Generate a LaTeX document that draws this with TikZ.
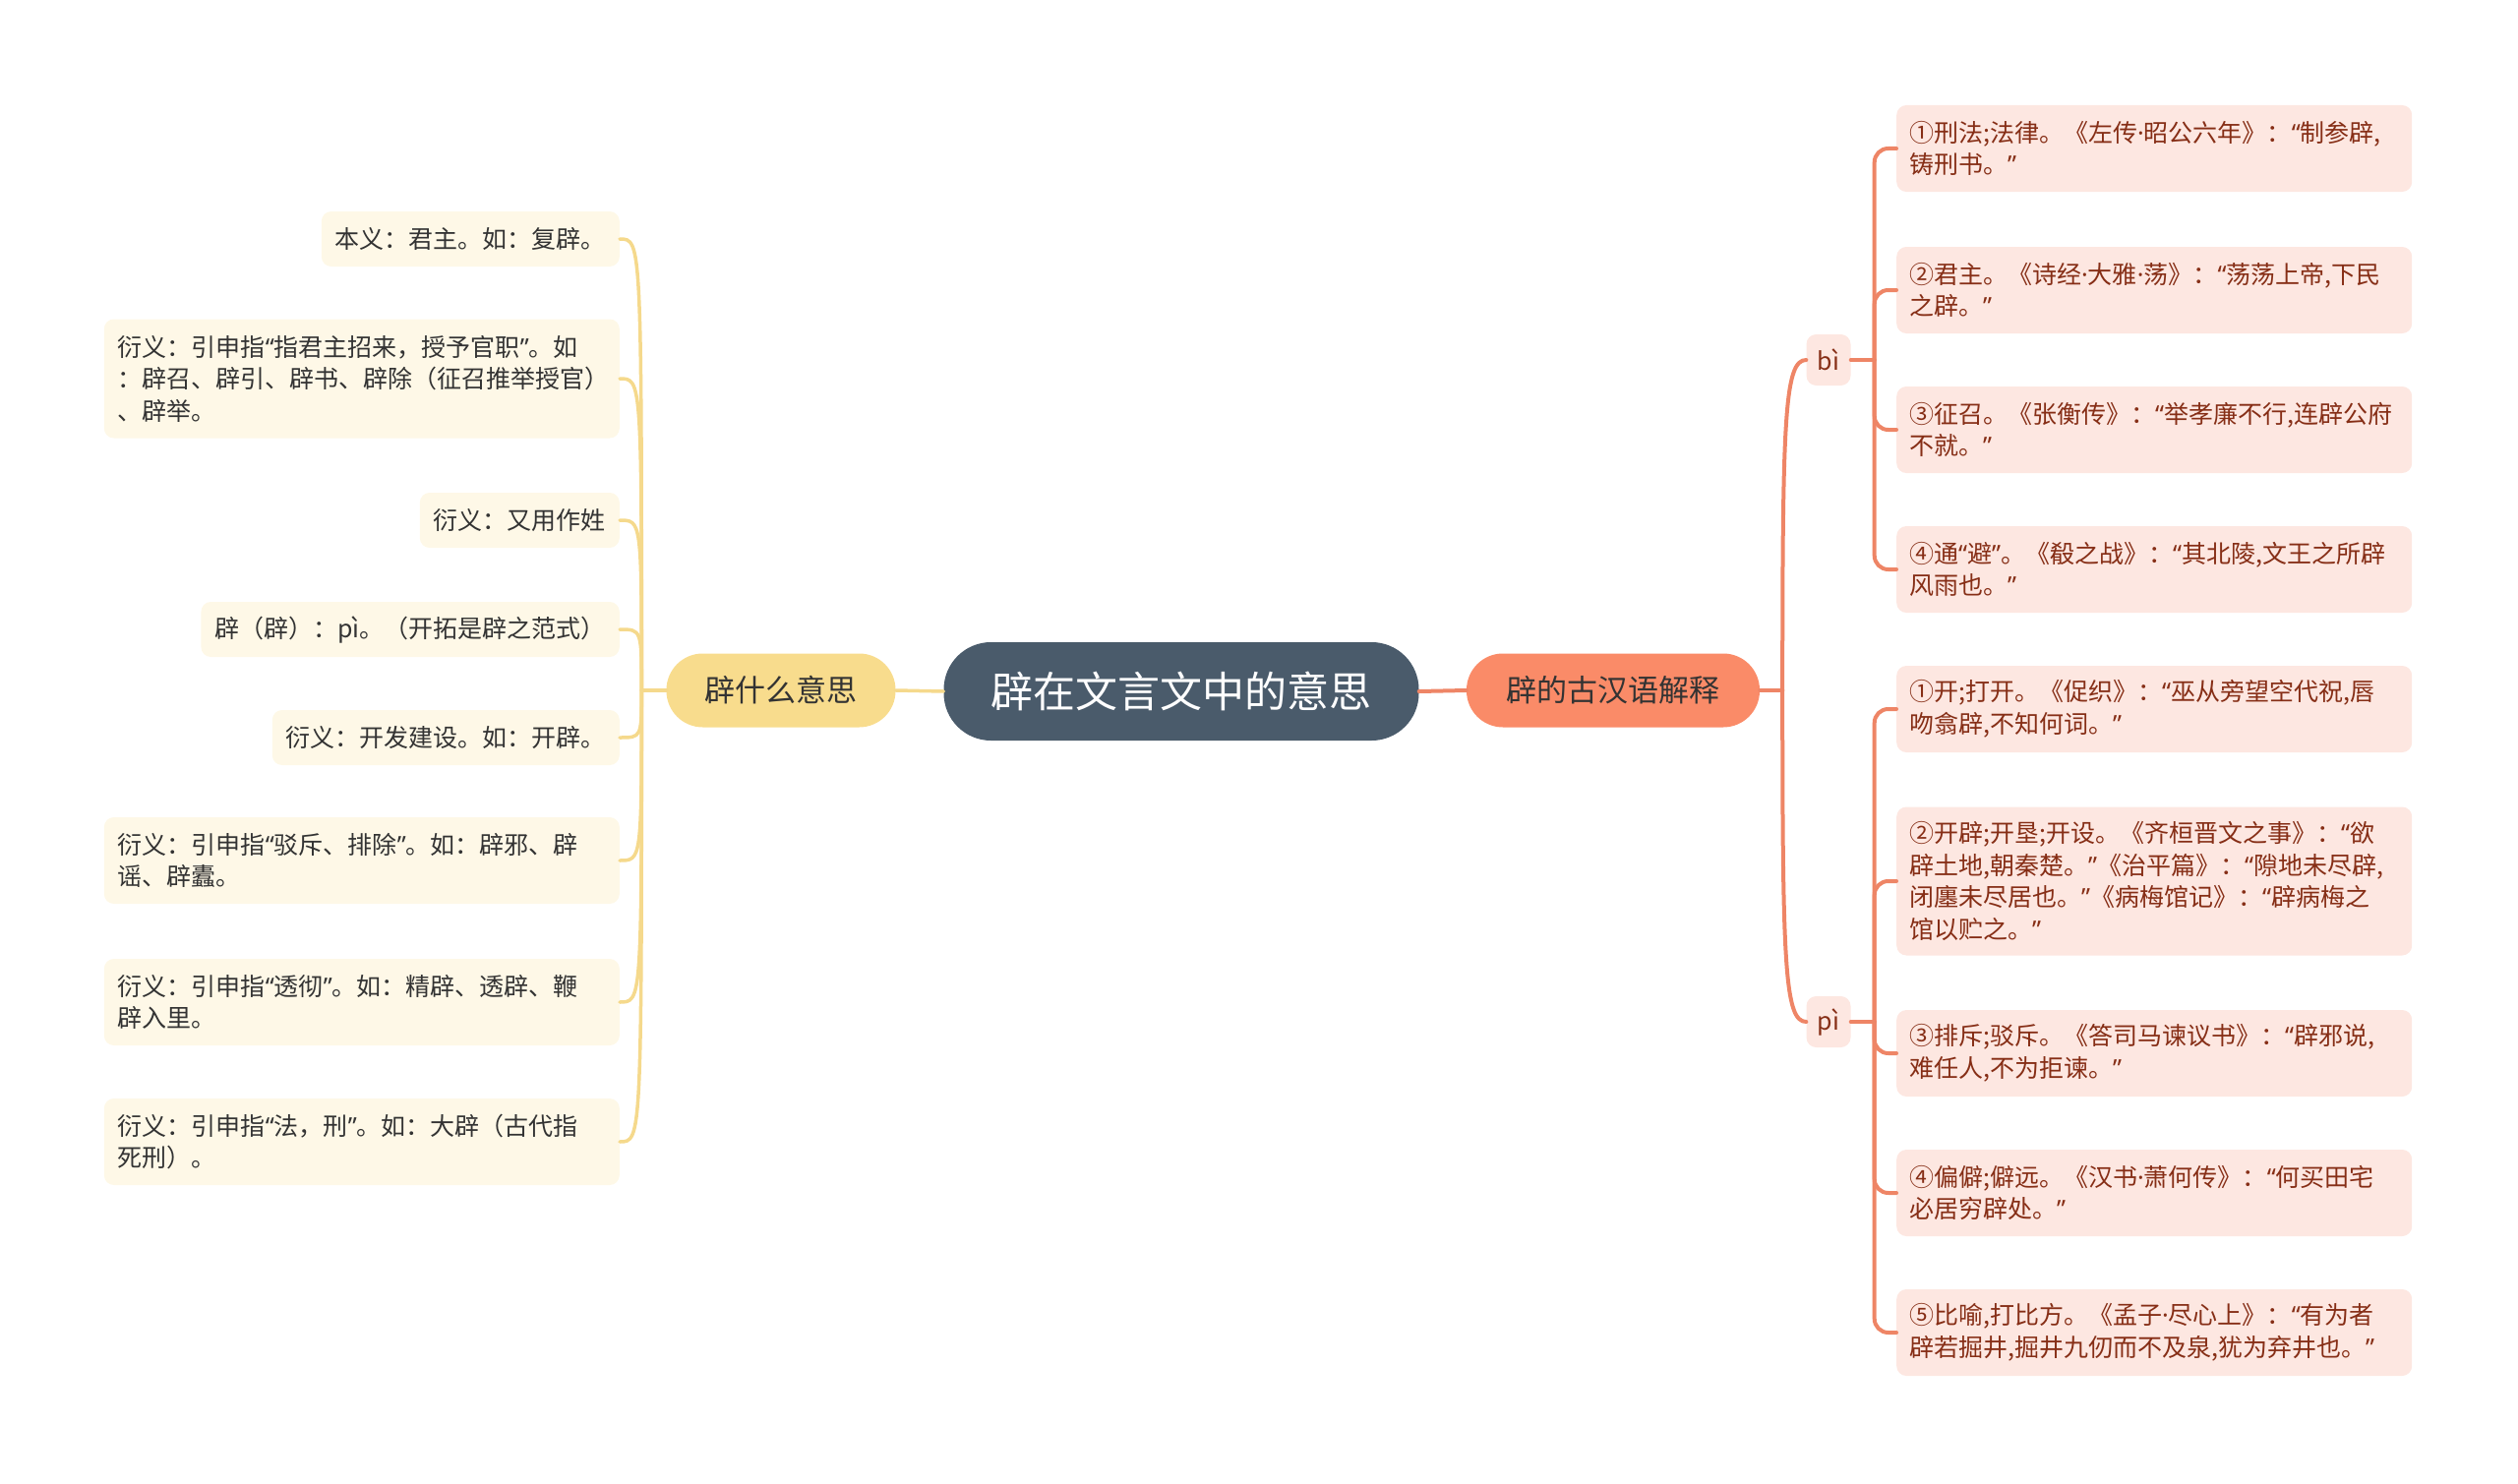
\documentclass[tikz,border=0pt]{standalone}
\usepackage{fontspec}
\setmainfont{Noto Sans CJK SC}
\newfontfamily\latq{Noto Sans}
\newcommand\myqo{{\latq “}}
\newcommand\myqc{{\latq ”}}
\newcommand\mydot{{\latq ·}}
\usetikzlibrary{calc}
\definecolor{rootc}{HTML}{4A5B6B}
\definecolor{ybr}{HTML}{F8DC8D}
\definecolor{ycon}{HTML}{F5D98C}
\definecolor{lleafc}{HTML}{FEF8E7}
\definecolor{ltxt}{HTML}{333333}
\definecolor{rbr}{HTML}{FA8B68}
\definecolor{rconc}{HTML}{EE8566}
\definecolor{rleafc}{HTML}{FDE7E1}
\definecolor{rtxt}{HTML}{862E16}
\begin{document}
\begin{tikzpicture}[x=1pt,y=-1pt,
  leafbase/.style={rounded corners=10pt, inner ysep=0pt, font=\fontsize{25}{32.5}\selectfont},
  lleaf/.style={leafbase, fill=lleafc, anchor=east, align=left, inner xsep=14pt, text=ltxt},
  lwide/.style={text width=496pt},
  rleaf/.style={leafbase, fill=rleafc, anchor=west, align=left, text width=498pt, inner xsep=13pt, text=rtxt},
  hone/.style={minimum height=56pt},
  htwo/.style={minimum height=88pt},
  hthree/.style={minimum height=121pt},
  hfour/.style={minimum height=151pt},
  rootnode/.style={fill=rootc, text=white, rounded corners=48pt, minimum width=483pt, minimum height=100pt, font=\fontsize{43}{50}\selectfont},
  branchnode/.style={rounded corners=37pt, minimum height=75pt, font=\fontsize{31}{38}\selectfont, text=ltxt},
  pynode/.style={fill=rleafc, rounded corners=10pt, minimum width=45pt, minimum height=52pt, inner sep=0pt, font=\fontsize{25}{30}\selectfont, text=rtxt},
  yline/.style={draw=ycon, line width=3.5pt, line cap=round},
  rline/.style={draw=rconc, line width=4pt, line cap=round}
]
\useasboundingbox (0,0) rectangle (2560,1509);

% root and branches
\node[rootnode] (root) at (1201,703) {辟在文言文中的意思};
\node[branchnode, fill=ybr, minimum width=233pt] (lb) at (794,702) {辟什么意思};
\node[branchnode, fill=rbr, minimum width=298pt] (rb) at (1640,702) {辟的古汉语解释};

% left leaves
\node[lleaf,hone] (L1) at (630,243) {本义：君主。如：复辟。};
\node[lleaf,lwide,hthree] (L2) at (630,385) {衍义：引申指\myqo 指君主招来，授予官职\myqc 。如\\：辟召、辟引、辟书、辟除（征召推举授官）\\、辟举。};
\node[lleaf,hone] (L3) at (630,529) {衍义：又用作姓};
\node[lleaf,hone] (L4) at (630,640) {辟（辟）：pì。（开拓是辟之范式）};
\node[lleaf,hone] (L5) at (630,750) {衍义：开发建设。如：开辟。};
\node[lleaf,lwide,htwo] (L6) at (630,875) {衍义：引申指\myqo 驳斥、排除\myqc 。如：辟邪、辟\\谣、辟蠹。};
\node[lleaf,lwide,htwo] (L7) at (630,1019) {衍义：引申指\myqo 透彻\myqc 。如：精辟、透辟、鞭\\辟入里。};
\node[lleaf,lwide,htwo] (L8) at (630,1161) {衍义：引申指\myqo 法，刑\myqc 。如：大辟（古代指\\死刑）。};

% pinyin nodes
\node[pynode] (bi) at (1859,366) {bì};
\node[pynode] (pi) at (1859,1039) {pì};

% right leaves
\node[rleaf,htwo] (R1) at (1928,151) {①刑法;法律。《左传\mydot 昭公六年》：\myqo 制参辟,\\铸刑书。\myqc};
\node[rleaf,htwo] (R2) at (1928,295) {②君主。《诗经\mydot 大雅\mydot 荡》：\myqo 荡荡上帝,下民\\之辟。\myqc};
\node[rleaf,htwo] (R3) at (1928,437) {③征召。《张衡传》：\myqo 举孝廉不行,连辟公府\\不就。\myqc};
\node[rleaf,htwo] (R4) at (1928,579) {④通\myqo 避\myqc 。《殽之战》：\myqo 其北陵,文王之所辟\\风雨也。\myqc};
\node[rleaf,htwo] (P1) at (1928,721) {①开;打开。《促织》：\myqo 巫从旁望空代祝,唇\\吻翕辟,不知何词。\myqc};
\node[rleaf,hfour] (P2) at (1928,896) {②开辟;开垦;开设。《齐桓晋文之事》：\myqo 欲\\辟土地,朝秦楚。\myqc《治平篇》：\myqo 隙地未尽辟,\\闭廛未尽居也。\myqc《病梅馆记》：\myqo 辟病梅之\\馆以贮之。\myqc};
\node[rleaf,htwo] (P3) at (1928,1071) {③排斥;驳斥。《答司马谏议书》：\myqo 辟邪说,\\难任人,不为拒谏。\myqc};
\node[rleaf,htwo] (P4) at (1928,1213) {④偏僻;僻远。《汉书\mydot 萧何传》：\myqo 何买田宅\\必居穷辟处。\myqc};
\node[rleaf,htwo] (P5) at (1928,1355) {⑤比喻,打比方。《孟子\mydot 尽心上》：\myqo 有为者\\辟若掘井,掘井九仞而不及泉,犹为弃井也。\myqc};

% root connectors
\draw[yline] (root.west) -- (lb.east);
\draw[rline] (root.east) -- (rb.west);

% left connectors
\coordinate (lt) at ($(lb.west)+(-25,0)$);
\draw[yline] (lb.west) -- (lt);
\foreach \n in {L1,L2,L3,L4,L5,L6,L7,L8}{
  \draw[yline] (lt) .. controls (lt |- \n.east) .. (\n.east);
}

% right connectors
\coordinate (rt) at ($(rb.east)+(23,0)$);
\draw[rline] (rb.east) -- (rt);
\draw[rline] (rt) .. controls ($(rt |- bi.west)+(0,60)$) and ($(rt |- bi.west)+(2,0)$) .. (bi.west);
\draw[rline] (rt) .. controls ($(rt |- pi.west)+(0,-60)$) and ($(rt |- pi.west)+(2,0)$) .. (pi.west);

\coordinate (bt) at ($(bi.east)+(24,0)$);
\draw[rline] (bi.east) -- (bt);
\foreach \n in {R1,R2,R3,R4}{
  \draw[rline, rounded corners=14pt] (bt) |- (\n.west);
}
\coordinate (pt) at ($(pi.east)+(24,0)$);
\draw[rline] (pi.east) -- (pt);
\foreach \n in {P1,P2,P3,P4,P5}{
  \draw[rline, rounded corners=14pt] (pt) |- (\n.west);
}
\end{tikzpicture}
\end{document}
